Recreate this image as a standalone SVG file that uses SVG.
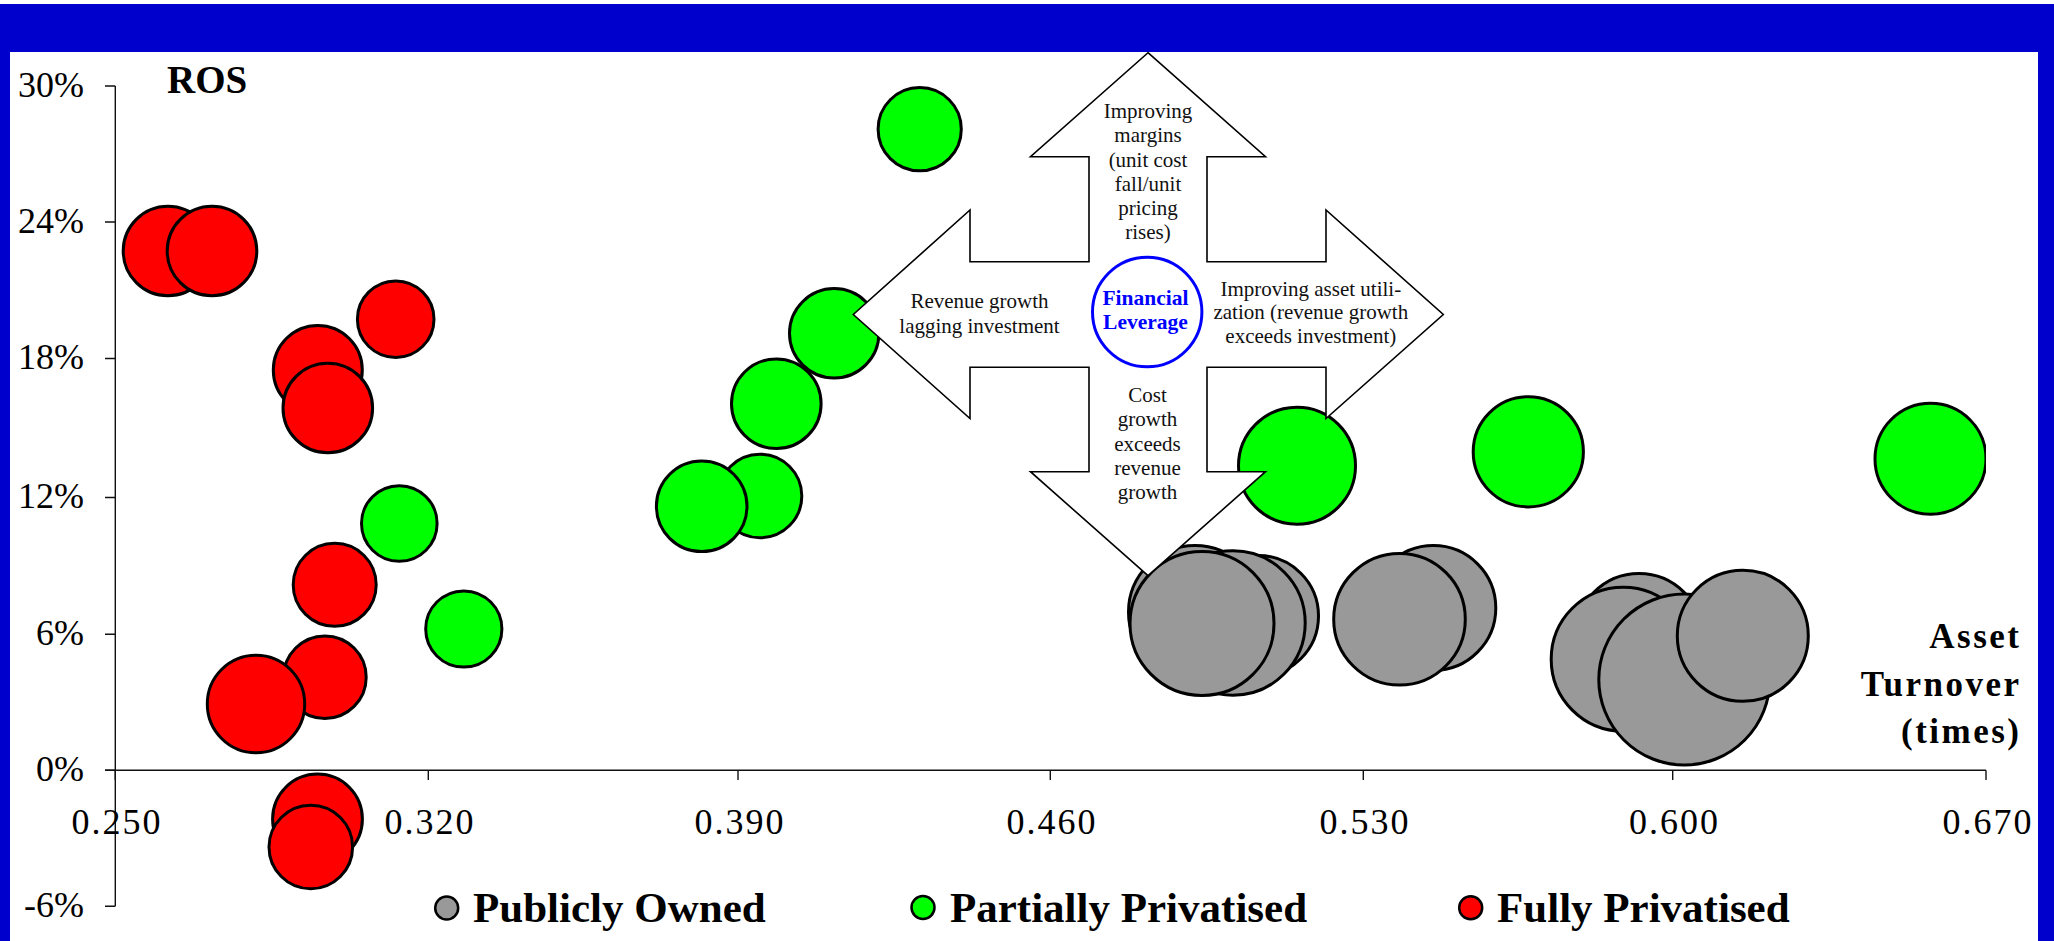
<svg xmlns="http://www.w3.org/2000/svg" width="2054" height="941" viewBox="0 0 2054 941">
<style>
.ax{stroke:#111;stroke-width:1.4;fill:none}
.yl{font-family:"Liberation Serif",serif;font-size:36px;fill:#000;text-anchor:end}
.xl{font-family:"Liberation Serif",serif;font-size:36px;fill:#000;text-anchor:middle;letter-spacing:2px}
.ttl{font-family:"Liberation Serif",serif;font-weight:bold;fill:#000}
.b{stroke:#000;stroke-width:3}
.r{fill:#FF0000}
.g{fill:#00FF00}
.k{fill:#999999}
.at{font-family:"Liberation Serif",serif;font-size:21px;fill:#111;text-anchor:middle}
.lg{font-family:"Liberation Serif",serif;font-weight:bold;font-size:43px;fill:#000}
</style>
<defs>
<clipPath id="plot"><rect x="115" y="86" width="1871" height="820"/></clipPath>
</defs>
<g id="frame">
<rect x="0" y="0" width="2054" height="941" fill="#ffffff"/>
<rect x="0" y="4" width="2054" height="937" fill="#0000CC"/>
<rect x="10" y="52" width="2028" height="889" fill="#ffffff"/>
</g>
<g id="axes">
<path class="ax" d="M115.3,86 V906.3 M105,86 H115.3 M105,222 H115.3 M105,358.5 H115.3 M105,497.5 H115.3 M105,634.3 H115.3 M105,770.3 H115.3 M105,906.3 H115.3"/>
<path class="ax" d="M105,770.3 H1986 M115.3,770.3 V780 M428.3,770.3 V780 M738,770.3 V780 M1050.3,770.3 V780 M1363.3,770.3 V780 M1672.7,770.3 V780 M1986,770.3 V780"/>
<text class="yl" x="84" y="96.5">30%</text>
<text class="yl" x="84" y="232.5">24%</text>
<text class="yl" x="84" y="369">18%</text>
<text class="yl" x="84" y="508">12%</text>
<text class="yl" x="84" y="644.8">6%</text>
<text class="yl" x="84" y="780.8">0%</text>
<text class="yl" x="84" y="916.8">-6%</text>
<text class="xl" x="117" y="834.3">0.250</text>
<text class="xl" x="430" y="834.3">0.320</text>
<text class="xl" x="740" y="834.3">0.390</text>
<text class="xl" x="1052" y="834.3">0.460</text>
<text class="xl" x="1365" y="834.3">0.530</text>
<text class="xl" x="1674.5" y="834.3">0.600</text>
<text class="xl" x="1988" y="834.3">0.670</text>
<text class="ttl" x="167" y="93" font-size="39">ROS</text>
<text class="ttl" font-size="35" letter-spacing="2.5" text-anchor="end"><tspan x="2021.5" y="648.3">Asset</tspan><tspan x="2021.5" y="696">Turnover</tspan><tspan x="2021.5" y="743">(times)</tspan></text>
</g>
<g id="bubbles" clip-path="url(#plot)">
<g id="publicly-owned">
<circle class="b k" cx="1195" cy="612" r="66.5"/>
<circle class="b k" cx="1258" cy="616" r="60.5"/>
<circle class="b k" cx="1233" cy="623" r="72.2"/>
<circle class="b k" cx="1202" cy="623.5" r="72"/>
<circle class="b k" cx="1433.4" cy="608" r="62.4"/>
<circle class="b k" cx="1399.5" cy="619.2" r="65.8"/>
<circle class="b k" cx="1639" cy="637" r="63.5"/>
<circle class="b k" cx="1623.2" cy="659.2" r="72"/>
<circle class="b k" cx="1684.3" cy="679.5" r="85.5"/>
<circle class="b k" cx="1742.8" cy="635.8" r="65.5"/>
</g>
<g id="partially-privatised">
<circle class="b g" cx="399.3" cy="523.5" r="37.8"/>
<circle class="b g" cx="463.8" cy="629" r="38.1"/>
<circle class="b g" cx="919.7" cy="129.2" r="41.6"/>
<circle class="b g" cx="834.2" cy="333.3" r="44.7"/>
<circle class="b g" cx="776.3" cy="403.7" r="44.8"/>
<circle class="b g" cx="760" cy="496" r="41.8"/>
<circle class="b g" cx="701.7" cy="506.3" r="45.3"/>
<circle class="b g" cx="1297" cy="465.7" r="58.5"/>
<circle class="b g" cx="1528.3" cy="451.8" r="55.1"/>
<circle class="b g" cx="1930.5" cy="458.7" r="55.5"/>
</g>
<g id="fully-privatised">
<circle class="b r" cx="167.9" cy="251" r="44.7"/>
<circle class="b r" cx="212" cy="251" r="44.8"/>
<circle class="b r" cx="395.7" cy="319.2" r="38.3"/>
<circle class="b r" cx="317.8" cy="370" r="44.5"/>
<circle class="b r" cx="327.8" cy="408" r="44.8"/>
<circle class="b r" cx="334.7" cy="584.8" r="41.5"/>
<circle class="b r" cx="324.9" cy="677.2" r="41.3"/>
<circle class="b r" cx="256" cy="704" r="48.7"/>
<circle class="b r" cx="317.5" cy="819" r="44.9"/>
<circle class="b r" cx="310.8" cy="847" r="41.8"/>
</g>
</g>
<g id="direction-arrows">
<polygon points="1148,52.7 1265.5,156.7 1207,156.7 1207,261.7 1326,261.7 1326,210 1443.3,314.5 1326,418.5 1326,367.3 1207,367.3 1207,471.7 1265.5,471.7 1148,575.7 1030.5,471.7 1089,471.7 1089,367.3 970,367.3 970,418.5 853.3,314.5 970,210 970,261.7 1089,261.7 1089,156.7 1030.5,156.7" fill="#ffffff" stroke="#000" stroke-width="1.6" stroke-linejoin="miter"/>
<text class="at"><tspan x="1148" y="118.3">Improving</tspan><tspan x="1148" y="141.7">margins</tspan><tspan x="1148" y="166.7">(unit cost</tspan><tspan x="1148" y="191">fall/unit</tspan><tspan x="1148" y="215">pricing</tspan><tspan x="1148" y="239">rises)</tspan></text>
<text class="at"><tspan x="979.5" y="307.7">Revenue growth</tspan><tspan x="979.5" y="332.7">lagging investment</tspan></text>
<text class="at"><tspan x="1310.8" y="296">Improving asset utili-</tspan><tspan x="1310.8" y="319.3">zation (revenue growth</tspan><tspan x="1310.8" y="343.3">exceeds investment)</tspan></text>
<text class="at"><tspan x="1147.5" y="402.3">Cost</tspan><tspan x="1147.5" y="426">growth</tspan><tspan x="1147.5" y="450.7">exceeds</tspan><tspan x="1147.5" y="475">revenue</tspan><tspan x="1147.5" y="499.3">growth</tspan></text>
</g>
<g id="financial-leverage">
<ellipse cx="1147.2" cy="312" rx="54.7" ry="54.8" fill="#ffffff" stroke="#0000FF" stroke-width="3"/>
<text font-family="Liberation Serif, serif" font-weight="bold" font-size="21.5" fill="#0000FF" text-anchor="middle"><tspan x="1145.5" y="305">Financial</tspan><tspan x="1145.5" y="329.3">Leverage</tspan></text>
</g>
<g id="legend">
<circle cx="446.7" cy="908" r="11.5" fill="#999999" stroke="#000" stroke-width="2.5"/>
<text class="lg" x="473" y="921.7">Publicly Owned</text>
<circle cx="923" cy="907.5" r="11.5" fill="#00FF00" stroke="#000" stroke-width="2.5"/>
<text class="lg" x="950" y="921.7">Partially Privatised</text>
<circle cx="1470.7" cy="907.7" r="11.5" fill="#FF0000" stroke="#000" stroke-width="2.5"/>
<text class="lg" x="1497" y="921.7">Fully Privatised</text>
</g>
</svg>
